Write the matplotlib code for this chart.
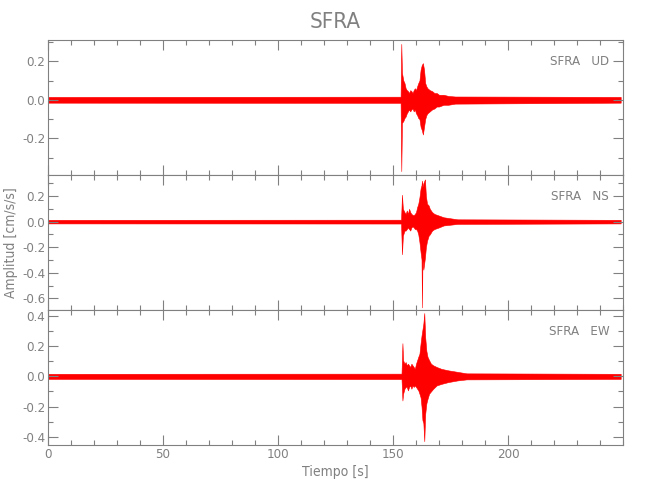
import matplotlib.pyplot as plt
from matplotlib.ticker import MultipleLocator

plt.rcParams['font.family'] = ['DejaVu Sans']
plt.rcParams['font.stretch'] = 'condensed'
plt.rcParams['axes.unicode_minus'] = False
gray = '#808080'

# envelope of each trace (cm/s/s)
t_ud = [0, 153.3, 153.6, 153.9, 154.5, 155, 155.5, 156, 156.5, 157, 157.5, 158, 158.5, 159, 159.5, 160, 160.5, 161,
        161.5, 162, 162.5, 163, 163.5, 164, 164.5, 165, 166, 167, 168, 169, 170, 172, 174, 177, 249]
up_ud = [0.015, 0.016, 0.29, 0.14, 0.10, 0.087, 0.06, 0.05, 0.045, 0.035, 0.05, 0.045, 0.035, 0.05, 0.06, 0.05, 0.07,
         0.087, 0.10, 0.156, 0.18, 0.19, 0.156, 0.087, 0.07, 0.06, 0.05, 0.045, 0.035, 0.035, 0.026, 0.026, 0.02,
         0.017, 0.015]
lo_ud = [-0.015, -0.016, -0.37, -0.12, -0.11, -0.095, -0.087, -0.07, -0.06, -0.05, -0.06, -0.05, -0.045, -0.06,
         -0.05, -0.07, -0.08, -0.095, -0.10, -0.14, -0.156, -0.18, -0.14, -0.10, -0.08, -0.07, -0.06, -0.05, -0.045,
         -0.035, -0.035, -0.026, -0.026, -0.02, -0.015]

t_ns = [0, 153.5, 153.9, 154.3, 155, 155.5, 156, 156.5, 157, 157.5, 158, 158.5, 159, 159.5, 160, 160.5, 161, 161.5,
        162, 162.4, 162.6, 162.8, 163.2, 163.9, 164.3, 164.8, 165.5, 166, 167, 168, 170, 172, 175, 178, 249]
up_ns = [0.014, 0.015, 0.21, 0.10, 0.074, 0.06, 0.087, 0.06, 0.10, 0.074, 0.06, 0.053, 0.05, 0.06, 0.074, 0.113,
         0.14, 0.19, 0.26, 0.285, 0.32, 0.27, 0.30, 0.33, 0.20, 0.14, 0.126, 0.10, 0.074, 0.06, 0.047, 0.034, 0.026,
         0.018, 0.014]
lo_ns = [-0.014, -0.015, -0.255, -0.11, -0.07, -0.07, -0.058, -0.045, -0.058, -0.07, -0.045, -0.037, -0.045, -0.058,
         -0.058, -0.07, -0.10, -0.16, -0.24, -0.295, -0.67, -0.30, -0.375, -0.28, -0.20, -0.15, -0.11, -0.10, -0.07,
         -0.058, -0.045, -0.03, -0.024, -0.018, -0.014]

t_ew = [0, 153.7, 154.1, 154.4, 155, 155.5, 156, 156.5, 157, 157.5, 158, 158.5, 159, 159.5, 160, 160.5, 161, 161.5,
        162, 162.4, 162.8, 163.2, 163.6, 164, 164.5, 165, 165.7, 166.5, 167.5, 169, 171, 174, 178, 182, 249]
up_ew = [0.017, 0.018, 0.22, 0.107, 0.084, 0.095, 0.073, 0.084, 0.073, 0.062, 0.084, 0.073, 0.062, 0.05, 0.084, 0.107,
         0.13, 0.15, 0.22, 0.27, 0.31, 0.35, 0.42, 0.26, 0.17, 0.13, 0.107, 0.084, 0.073, 0.062, 0.05, 0.04, 0.03,
         0.02, 0.017]
lo_ew = [-0.017, -0.018, -0.16, -0.115, -0.082, -0.07, -0.07, -0.093, -0.07, -0.06, -0.082, -0.06, -0.07, -0.06,
         -0.07, -0.082, -0.093, -0.115, -0.14, -0.2, -0.29, -0.31, -0.43, -0.25, -0.18, -0.15, -0.115, -0.1, -0.082,
         -0.06, -0.05, -0.038, -0.027, -0.02, -0.017]

panels = [
    ("SFRA   UD", t_ud, up_ud, lo_ud, (-0.39, 0.31)),
    ("SFRA   NS", t_ns, up_ns, lo_ns, (-0.69, 0.364)),
    ("SFRA   EW", t_ew, up_ew, lo_ew, (-0.455, 0.44)),
]

fig = plt.figure(figsize=(6.5, 5), dpi=100)
left, width, height = 48 / 650, 575 / 650, 135 / 500
bottoms = [0.65, 0.38, 0.11]

for i, (name, t, up, lo, ylim) in enumerate(panels):
    ax = fig.add_axes([left, bottoms[i], width, height])
    ax.fill_between(t, lo, up, color='red', lw=0.4, edgecolor='red')
    ax.set_xlim(0, 250)
    ax.set_ylim(*ylim)
    ax.xaxis.set_major_locator(MultipleLocator(50))
    ax.xaxis.set_minor_locator(MultipleLocator(10))
    ax.yaxis.set_major_locator(MultipleLocator(0.2))
    ax.yaxis.set_minor_locator(MultipleLocator(0.1))
    ax.tick_params(which='both', direction='in', top=True, right=True, colors=gray,
                   labelsize=9.5, width=0.8, pad=2)
    ax.tick_params(which='major', length=7)
    ax.tick_params(which='minor', length=3.6)
    ax.set_xticks([0, 50, 100, 150, 200])
    if i < 2:
        ax.tick_params(labelbottom=False)
    for s in ax.spines.values():
        s.set_color(gray)
        s.set_linewidth(0.8)
    ax.text(0.976, 0.84, name, transform=ax.transAxes, ha='right', va='center',
            color=gray, fontsize=9.5)
    if i == 2:
        ax.set_xlabel("Tiempo [s]", color=gray, fontsize=10, labelpad=3)

fig.text(0.516, 0.955, "SFRA", ha='center', va='center', color=gray, fontsize=16)
fig.text(0.017, 0.515, "Amplitud [cm/s/s]", rotation=90, ha='center', va='center',
         color=gray, fontsize=10)

fig.savefig("out.png", dpi=100)
